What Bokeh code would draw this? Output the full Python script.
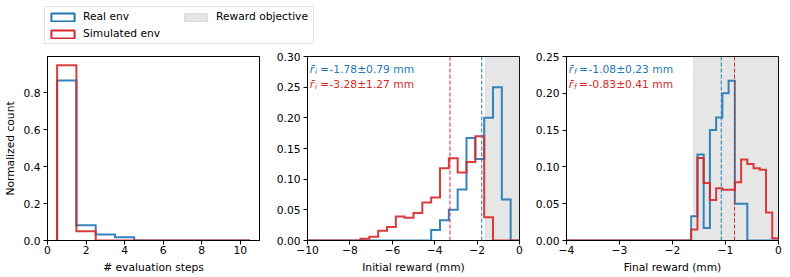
import numpy as np
from bokeh.plotting import figure
from bokeh.models import (Range1d, FixedTicker, Span, BoxAnnotation, Label,
                          Legend, LegendItem)
from bokeh.layouts import column, row
from bokeh.embed import file_html
from bokeh.resources import INLINE

# ---------------- data ----------------
step_counts = [1, 2, 3, 4, 5, 6, 7, 8, 9, 10]
steps_real = [0.867, 0.083, 0.033, 0.017, 0.0, 0.0, 0.0, 0.0, 0.0, 0.0]
steps_sim = [0.95, 0.05, 0.0, 0.0, 0.0, 0.0, 0.0, 0.0, 0.0, 0.0]

init_range = (-10.0, 0.0)
init_real = [0, 0, 0, 0, 0, 0, 0, 0, 0, 0, 0, 0, 0, 0,
             0.017, 0.033, 0.05, 0.083, 0.167, 0.133, 0.2, 0.25, 0.067, 0]
init_sim = [0, 0, 0, 0, 0, 0, 0.003, 0.006, 0.016, 0.022, 0.039, 0.037,
            0.045, 0.062, 0.07, 0.118, 0.134, 0.111, 0.128, 0.17, 0.038, 0, 0, 0]

final_range = (-4.0, 0.0)
final_real = [0, 0, 0, 0, 0, 0, 0, 0, 0, 0, 0, 0, 0, 0, 0, 0, 0, 0, 0, 0,
              0.033, 0.117, 0.017, 0.15, 0.167, 0.2, 0.217, 0.05, 0.05, 0, 0, 0, 0, 0]
final_sim = [0, 0, 0, 0, 0, 0, 0, 0, 0, 0, 0, 0, 0, 0, 0, 0, 0, 0, 0, 0,
             0.015, 0.112, 0.078, 0.055, 0.071, 0.069, 0.069, 0.079, 0.11,
             0.104, 0.098, 0.096, 0.038, 0.003]

init_means = [-1.78, -3.28]
init_stds = [0.79, 1.27]
final_means = [-1.08, -0.83]
final_stds = [0.23, 0.41]
reward_objective = -1.6

series_names = ["Real env", "Simulated env"]
objective_name = "Reward objective"

steps_xticks = [0, 2, 4, 6, 8, 10]
steps_xlabels = ["0", "2", "4", "6", "8", "10"]
count_yticks = [0.0, 0.2, 0.4, 0.6, 0.8]
count_ylabels = ["0.0", "0.2", "0.4", "0.6", "0.8"]
init_xticks = [-10, -8, -6, -4, -2, 0]
init_xlabels = ["\u221210", "\u22128", "\u22126", "\u22124", "\u22122", "0"]
init_yticks = [0.0, 0.05, 0.1, 0.15, 0.2, 0.25, 0.3]
init_ylabels = ["0.00", "0.05", "0.10", "0.15", "0.20", "0.25", "0.30"]
final_xticks = [-4, -3, -2, -1, 0]
final_xlabels = ["\u22124", "\u22123", "\u22122", "\u22121", "0"]
final_yticks = [0.0, 0.05, 0.1, 0.15, 0.2, 0.25]
final_ylabels = ["0.00", "0.05", "0.10", "0.15", "0.20", "0.25"]

# ---------------- style ----------------
FONT = "DejaVu Sans"
FS = "10.7px"
BLUE = "#1f77b4"
RED = "#d62728"
COLORS = [BLUE, RED]
FW, FH = 212, 184


def make_fig(xr, yr, mbl, mbr):
    p = figure(frame_width=FW, frame_height=FH, min_border_left=mbl,
               min_border_right=mbr, min_border_top=9, min_border_bottom=35,
               x_range=Range1d(*xr), y_range=Range1d(*yr),
               toolbar_location=None, output_backend="svg")
    p.grid.visible = False
    p.background_fill_color = "white"
    p.border_fill_color = "white"
    p.outline_line_color = "black"
    p.outline_line_alpha = 1.0
    p.outline_line_width = 1
    for ax in list(p.xaxis) + list(p.yaxis):
        ax.axis_line_color = "black"
        ax.major_tick_line_color = "black"
        ax.major_tick_out = 4
        ax.major_tick_in = 0
        ax.minor_tick_line_color = None
        ax.major_label_text_font = FONT
        ax.major_label_text_font_size = FS
        ax.major_label_text_color = "black"
        ax.axis_label_text_font = FONT
        ax.axis_label_text_font_size = FS
        ax.axis_label_text_font_style = "normal"
        ax.axis_label_text_color = "black"
    p.xaxis.major_label_standoff = 1
    p.xaxis.axis_label_standoff = 4
    p.yaxis.major_label_standoff = 3
    p.yaxis.axis_label_standoff = 4
    return p


def set_ticks(p, xt, xl, yt, yl):
    p.xaxis.ticker = FixedTicker(ticks=xt)
    p.xaxis.major_label_overrides = {t: l for t, l in zip(xt, xl)}
    p.yaxis.ticker = FixedTicker(ticks=yt)
    p.yaxis.major_label_overrides = {t: l for t, l in zip(yt, yl)}


def step_hist(p, edges, heights, color):
    edges = np.asarray(edges, dtype=float)
    h = np.asarray(heights, dtype=float)
    xs = np.repeat(edges, 2)
    ys = np.concatenate([[0.0], np.repeat(h, 2), [0.0]])
    p.line(xs, ys, line_color=color, line_width=2, line_alpha=0.9,
           line_join="miter")


def stat_text(p, sub, mean, std, color, rowi):
    base = FH - 12.8 - rowi * 15.5
    common = dict(x_units="screen", y_units="screen", text_color=color,
                  text_font=FONT, text_baseline="alphabetic")
    p.add_layout(Label(x=2.3, y=base, text="r\u0304", text_font_size=FS,
                       text_font_style="italic", **common))
    p.add_layout(Label(x=7.5, y=base - 2, text=sub, text_font_size="7.5px",
                       text_font_style="italic", **common))
    p.add_layout(Label(x=12.6, y=base, text="=", text_font_size=FS, **common))
    p.add_layout(Label(x=22, y=base, text=f"{mean:.2f}\u00b1{std:.2f} mm",
                       text_font_size=FS, **common))


# ---------------- panel 1: evaluation steps ----------------
p1 = make_fig((0, 11), (0, 0.9975), 47, 3)
set_ticks(p1, steps_xticks, steps_xlabels, count_yticks, count_ylabels)
p1.xaxis.axis_label = "# evaluation steps"
p1.yaxis.axis_label = "Normalized count"
step_edges = np.array(step_counts + [step_counts[-1] + 1], dtype=float) - 0.5
step_hist(p1, step_edges, steps_real, BLUE)
step_hist(p1, step_edges, steps_sim, RED)

# ---------------- panel 2: initial reward ----------------
p2 = make_fig(init_range, (0, 0.30), 45, 5)
set_ticks(p2, init_xticks, init_xlabels, init_yticks, init_ylabels)
p2.xaxis.axis_label = "Initial reward (mm)"
p2.add_layout(BoxAnnotation(left=reward_objective, fill_color="gray",
                            fill_alpha=0.2, line_color="gray", line_alpha=0.2,
                            level="underlay"))
init_edges = np.linspace(init_range[0], init_range[1], len(init_real) + 1)
step_hist(p2, init_edges, init_real, BLUE)
step_hist(p2, init_edges, init_sim, RED)
for m, s, c, i in zip(init_means, init_stds, COLORS, range(2)):
    p2.add_layout(Span(location=m, dimension="height", line_color=c,
                       line_dash="4 2", line_width=1))
    stat_text(p2, "i", m, s, c, i)

# ---------------- panel 3: final reward ----------------
p3 = make_fig(final_range, (0, 0.25), 42, 10)
set_ticks(p3, final_xticks, final_xlabels, final_yticks, final_ylabels)
p3.xaxis.axis_label = "Final reward (mm)"
p3.add_layout(BoxAnnotation(left=reward_objective, fill_color="gray",
                            fill_alpha=0.2, line_color="gray", line_alpha=0.2,
                            level="underlay"))
final_edges = np.linspace(final_range[0], final_range[1], len(final_real) + 1)
step_hist(p3, final_edges, final_real, BLUE)
step_hist(p3, final_edges, final_sim, RED)
for m, s, c, i in zip(final_means, final_stds, COLORS, range(2)):
    p3.add_layout(Span(location=m, dimension="height", line_color=c,
                       line_dash="4 2", line_width=1))
    stat_text(p3, "f", m, s, c, i)

# ---------------- legend strip ----------------
pl = figure(width=788, height=47, x_range=Range1d(0, 1), y_range=Range1d(0, 1),
            x_axis_type=None, y_axis_type=None, min_border=0,
            toolbar_location=None, output_backend="svg")
pl.grid.visible = False
pl.outline_line_color = None
pl.background_fill_color = "white"
pl.border_fill_color = "white"
nan = [float("nan")]
r_real = pl.quad(left=nan, right=nan, top=nan, bottom=nan, fill_alpha=0,
                 line_color=BLUE, line_width=2)
r_sim = pl.quad(left=nan, right=nan, top=nan, bottom=nan, fill_alpha=0,
                line_color=RED, line_width=2)
r_obj = pl.quad(left=nan, right=nan, top=nan, bottom=nan, fill_color="gray",
                fill_alpha=0.2, line_color="gray", line_alpha=0.2)
legend = Legend(items=[LegendItem(label=series_names[0], renderers=[r_real]),
                       LegendItem(label=series_names[1], renderers=[r_sim]),
                       LegendItem(label=objective_name, renderers=[r_obj])],
                nrows=2, location=(44, 3), margin=0, padding=3, spacing=4,
                glyph_width=29, glyph_height=10, label_standoff=6,
                label_width=94, label_text_font=FONT, label_text_font_size=FS,
                label_text_color="black", border_line_color="#cccccc",
                border_line_width=1, background_fill_alpha=0.8)
pl.add_layout(legend)

layout = column(pl, row(p1, p2, p3, spacing=0), spacing=0)

with open("out.html", "w") as f:
    f.write(file_html(layout, INLINE))
